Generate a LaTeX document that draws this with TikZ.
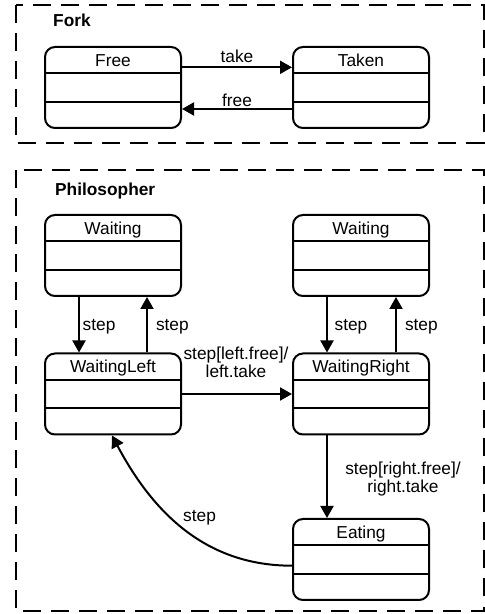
\documentclass[tikz,border=0pt]{standalone}
\usepackage{fontspec}
\setmainfont{Liberation Sans}
\usetikzlibrary{arrows.meta}
\newcommand\statefont{\fontsize{17.3}{18}\selectfont}
\tikzstyle{state}=[draw, line width=2pt, rounded corners=10pt, minimum width=136pt, minimum height=81pt, inner sep=0pt,
  path picture={\draw[line width=2pt] ([yshift=-26.5pt]path picture bounding box.north west) -- ([yshift=-26.5pt]path picture bounding box.north east)
    ([yshift=-55pt]path picture bounding box.north west) -- ([yshift=-55pt]path picture bounding box.north east);}]
\tikzstyle{lbl}=[inner sep=0pt, font=\statefont]
\tikzstyle{headtext}=[lbl, anchor=base, yshift=-20.3pt]
\tikzstyle{grouptitle}=[inner sep=0pt, font=\statefont\bfseries, anchor=base west]
\tikzstyle{flow}=[draw, line width=2pt, -{Triangle[length=12pt,width=13pt]}]
\tikzstyle{groupframe}=[draw, line width=2pt, dash pattern=on 18pt off 10pt]
\begin{document}
\begin{tikzpicture}[x=1pt, y=1pt]
\useasboundingbox (0,0) rectangle (485,614);
% Fork
\draw[groupframe] (16,609) rectangle (483.5,471);
\node[grouptitle] (forktitle) at (53,587) {Fork};
\node[state, label={[headtext]north:Free}] (free) at (113,526.5) {};
\node[state, label={[headtext]north:Taken}] (taken) at (361,526.5) {};
\draw[flow] ([yshift=20.2pt]free.east) -- node[lbl, anchor=base, yshift=4.6pt] {take} ([yshift=20.2pt]taken.west);
\draw[flow] ([yshift=-21.5pt]taken.west) -- node[lbl, anchor=base, yshift=2.3pt] {free} ([yshift=-21.5pt]free.east);
% Philosopher
\draw[groupframe] (16,444) rectangle (483.5,2.5);
\node[grouptitle] (philtitle) at (55,418) {Philosopher};
\node[state, label={[headtext]north:Waiting}] (waitl) at (113,358.5) {};
\node[state, label={[headtext]north:Waiting}] (waitr) at (361,358.5) {};
\node[state, label={[headtext]north:WaitingLeft}] (wleft) at (113,220) {};
\node[state, label={[headtext]north:WaitingRight}] (wright) at (361,220) {};
\node[state, label={[headtext]north:Eating}] (eating) at (361,54.5) {};
\draw[flow] ([xshift=-34pt]waitl.south) -- node[lbl, anchor=base west, xshift=2.7pt, yshift=-6.2pt] {step} ([xshift=-34pt]wleft.north);
\draw[flow] ([xshift=34pt]wleft.north) -- node[lbl, anchor=base west, xshift=8pt, yshift=-6.2pt] {step} ([xshift=34pt]waitl.south);
\draw[flow] ([xshift=-34pt]waitr.south) -- node[lbl, anchor=base west, xshift=6.6pt, yshift=-6.2pt] {step} ([xshift=-34pt]wright.north);
\draw[flow] ([xshift=35pt]wright.north) -- node[lbl, anchor=base west, xshift=8pt, yshift=-6.2pt] {step} ([xshift=35pt]waitr.south);
\draw[flow] (wleft.east) -- node[lbl, align=center, anchor=base, xshift=-1pt, yshift=16pt] {step[left.free]/\\left.take} (wright.west);
\draw[flow] ([xshift=-34pt]wright.south) -- node[lbl, align=center, anchor=base, xshift=76pt, yshift=-16.2pt] {step[right.free]/\\right.take} ([xshift=-34pt]eating.north);
\draw[flow] ([yshift=-6.2pt]eating.west) to[out=180, in=-62] node[lbl, pos=0.5, anchor=base, xshift=14.8pt, yshift=8pt] {step} ([xshift=-1pt]wleft.south);
\end{tikzpicture}
\end{document}
